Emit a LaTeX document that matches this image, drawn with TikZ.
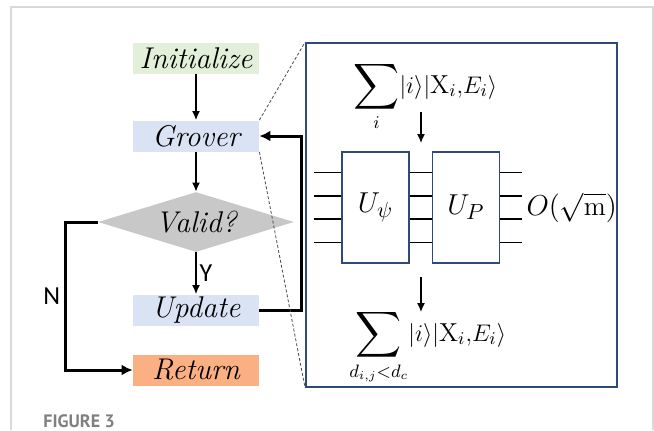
\documentclass[tikz,border=0pt]{standalone}
\usepackage{amsmath}
\usepackage{graphicx}
\usepackage{fontspec}
\newfontfamily\labelfont{Carlito}
\newfontfamily\capfont{PT Sans}
\usetikzlibrary{shapes.geometric,arrows.meta,positioning}

\definecolor{initgreen}{HTML}{E2F0D9}
\definecolor{stepblue}{HTML}{DAE3F3}
\definecolor{validgray}{HTML}{C8C8C8}
\definecolor{retorange}{HTML}{FBB083}
\definecolor{panelblue}{HTML}{2F4A7A}
\definecolor{framegray}{HTML}{D9D9D9}
\definecolor{capgray}{HTML}{808080}

\newcommand{\bigsum}{\mathop{\vcenter{\hbox{\scalebox{1.33}{$\displaystyle\sum$}}}}\limits}

\begin{document}
\begin{tikzpicture}[
              x=1pt, y=1pt,
              node distance=40pt,
              stepbox/.style={rectangle, inner sep=0pt, minimum width=63pt, minimum height=15.5pt, font=\fontsize{15}{17}\selectfont\itshape},
              decision/.style={diamond, fill=validgray, aspect=3.3, inner sep=0pt, minimum width=98pt, minimum height=30pt, font=\fontsize{15}{17}\selectfont\itshape},
              arrow/.style={-{Latex[length=4.5pt,width=4pt]}, line width=0.7pt},
              loop/.style={-{Latex[length=5.5pt,width=5.5pt]}, line width=1.5pt},
              gate/.style={rectangle, draw=panelblue, line width=0.7pt, inner sep=0pt, minimum width=33.5pt, minimum height=55.5pt, font=\fontsize{15}{17}\selectfont},
              wire/.style={line width=0.8pt},
              zoomline/.style={gray!60!black, line width=0.4pt, dash pattern=on 1.5pt off 1pt}
            ]
              \useasboundingbox (0,0) rectangle (327,-215);
              \draw[framegray, line width=0.8pt] (5.5,-215) -- (5.5,-3.5) -- (326.5,-3.5) -- (326.5,-215);

              % Define flow nodes
              \node[stepbox, fill=initgreen] (init) at (98,-29) {Initialize};
              \node[stepbox, fill=stepblue, below of=init, node distance=39pt] (grover) {Grover};
              \node[decision, below of=grover, node distance=43pt] (valid) {Valid?};
              \node[stepbox, fill=stepblue, below of=valid, node distance=44pt] (update) {Update};
              \node[stepbox, fill=retorange, below of=update, node distance=30pt] (return) {Return};

              % Draw arrows
              \draw[arrow] (init) -- (grover);
              \draw[arrow] (grover) -- (valid);
              \draw[arrow] (valid) -- node[right, inner sep=1.5pt, font=\labelfont\fontsize{13}{15}\selectfont] {Y} (update);
              \draw[loop] (valid.west) -- ++(-16,0) |- node[pos=0.25, left, inner sep=2pt, font=\labelfont\fontsize{13}{15}\selectfont] {N} (return.west);
              \draw[loop] (update.east) -- ++(21,0) |- (grover.east);

              % Zoomed circuit panel
              \node[draw=panelblue, line width=0.9pt, inner sep=0pt, minimum width=155.5pt, minimum height=172pt] (panel) at (230.75,-107.5) {};
              \draw[zoomline] (grover.north east) -- (panel.north west);
              \draw[zoomline] (grover.south east) -- (panel.south west);

              \node[anchor=base west, inner sep=0pt, font=\fontsize{13}{15}\selectfont] (sumin) at (176.5,-46.5) {$\bigsum_i\! |i\rangle|\mathrm{X}_i{,}E_i\rangle$};
              \node[gate] (upsi) at (187.75,-103.75) {$U_\psi$};
              \node[gate, right=11pt of upsi] (up) {$U_P$};
              \node[right=13pt of up, inner sep=0pt, font=\fontsize{13.5}{15}\selectfont] (cost) {$O(\sqrt{\mathrm{m}})$};
              \node[anchor=base west, inner sep=0pt, font=\fontsize{13}{15}\selectfont] (sumout) at (174.5,-170.5) {$\bigsum_{d_{i,j}<d_c}\! |i\rangle|\mathrm{X}_i{,}E_i\rangle$};

              \coordinate (inTop) at (210.5,-56);
              \coordinate (inEnd) at (210.5,-71.5);
              \coordinate (outTop) at (210.5,-138.5);
              \coordinate (outEnd) at (210.5,-156);
              \draw[arrow] (inTop) -- (inEnd);
              \draw[arrow] (outTop) -- (outEnd);

              % Qubit wires
              \foreach \dy in {-17.5,-5.8,5.8,17.5} {
                \draw[wire] ([yshift=\dy pt]upsi.west) -- ++(-13.5,0);
                \draw[wire] ([yshift=\dy pt]upsi.east) -- ([yshift=\dy pt]up.west);
                \draw[wire] ([yshift=\dy pt]up.east) -- ++(11,0);
              }

              % Caption
              \node[anchor=base west, inner sep=0pt, text=capgray, font=\capfont\bfseries\fontsize{9}{11}\selectfont] (caption) at (21.5,-213.5) {FIGURE 3};
            \end{tikzpicture}
\end{document}
